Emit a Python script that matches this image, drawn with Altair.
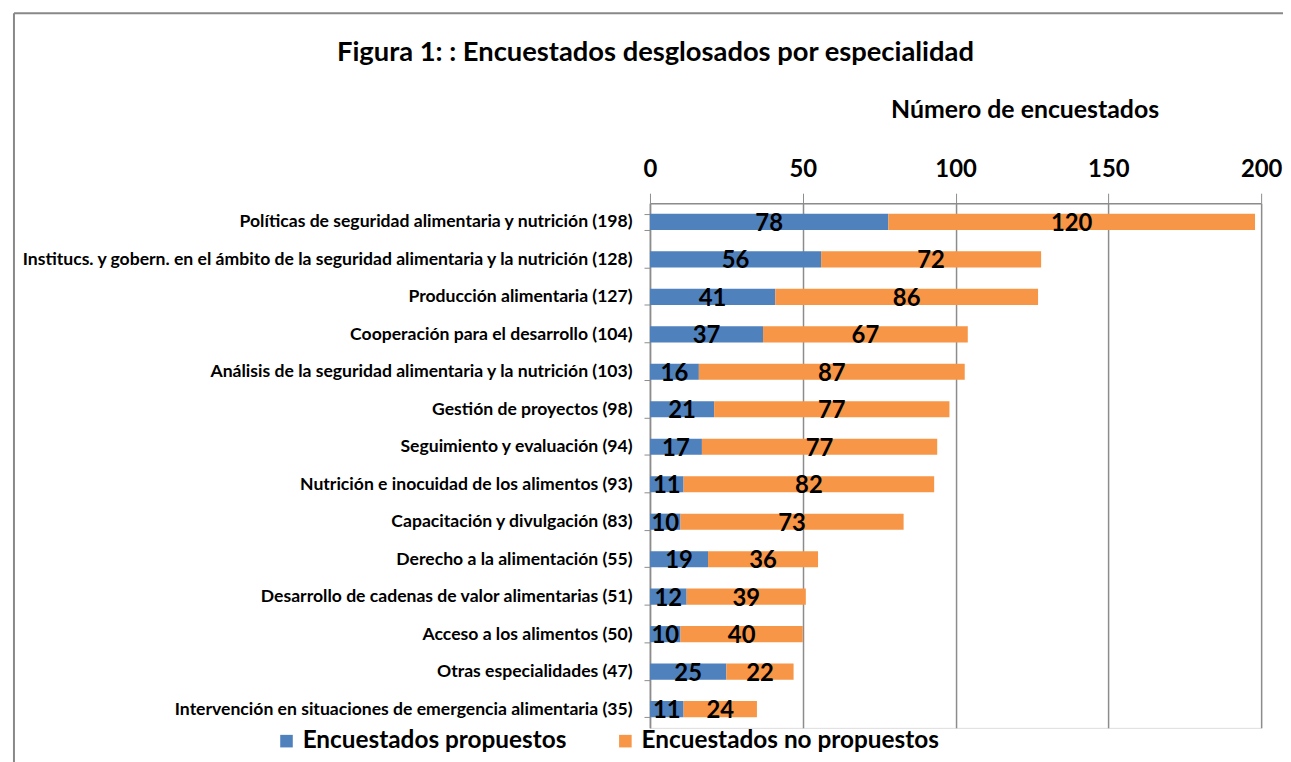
import altair as alt
import pandas as pd

categories = [
    "Políticas de seguridad alimentaria y nutrición (198)",
    "Institucs. y gobern. en el ámbito de la seguridad alimentaria y la nutrición (128)",
    "Producción alimentaria (127)",
    "Cooperación para el desarrollo (104)",
    "Análisis de la seguridad alimentaria y la nutrición (103)",
    "Gestión de proyectos (98)",
    "Seguimiento y evaluación (94)",
    "Nutrición e inocuidad de los alimentos (93)",
    "Capacitación y divulgación (83)",
    "Derecho a la alimentación (55)",
    "Desarrollo de cadenas de valor alimentarias (51)",
    "Acceso a los alimentos (50)",
    "Otras especialidades (47)",
    "Intervención en situaciones de emergencia alimentaria (35)",
]
propuestos = [78, 56, 41, 37, 16, 21, 17, 11, 10, 19, 12, 10, 25, 11]
no_propuestos = [120, 72, 86, 67, 87, 77, 77, 82, 73, 36, 39, 40, 22, 24]
series = ["Encuestados propuestos", "Encuestados no propuestos"]
colors = ["#4F81BD", "#F79646"]

rows = []
for c, a, b in zip(categories, propuestos, no_propuestos):
    rows.append({"cat": c, "serie": series[0], "value": a, "ord": 0})
    rows.append({"cat": c, "serie": series[1], "value": b, "ord": 1})
df = pd.DataFrame(rows)

FONT = "Lato"
W, H = 615, 528
GRID = "#8C8C8C"

base = alt.Chart(df).transform_stack(
    stack="value", as_=["x0", "x1"], groupby=["cat"], sort=[alt.SortField("ord")]
).transform_calculate(mid="(datum.x0 + datum.x1) / 2")

y_enc = alt.Y(
    "cat:N", sort=categories,
    scale=alt.Scale(paddingInner=0.57, paddingOuter=0.285),
    axis=alt.Axis(
        title=None, labelFont=FONT, labelFontWeight="bold", labelFontSize=17.7,
        labelColor="#000000", labelLimit=800, labelPadding=12,
        tickBand="extent", tickSize=6, tickColor=GRID, domainColor=GRID,
        domainWidth=1.5, grid=False,
    ),
)

bars = base.mark_bar().encode(
    y=y_enc,
    x=alt.X(
        "x0:Q", scale=alt.Scale(domain=[0, 200], nice=False),
        axis=alt.Axis(
            orient="top", values=[0, 50, 100, 150, 200], title="Número de encuestados",
            titleFont=FONT, titleFontSize=25, titleFontWeight="bold", titleColor="#000000",
            titleX=377, titleY=-94, titleAlign="center", titleBaseline="middle",
            labelFont=FONT, labelFontSize=24, labelFontWeight="bold", labelColor="#000000",
            labelPadding=12, tickSize=10, tickColor=GRID, domainColor=GRID, domainWidth=1.5,
            grid=True, gridColor=GRID, gridWidth=1.5, labelFlush=False,
        ),
    ),
    x2="x1:Q",
    color=alt.Color(
        "serie:N", scale=alt.Scale(domain=series, range=colors),
        legend=alt.Legend(
            title=None, orient="none", direction="horizontal", legendX=-378, legendY=529,
            symbolType="square", symbolSize=160, symbolStrokeWidth=0, symbolOpacity=1,
            labelFont=FONT, labelFontSize=24.5, labelFontWeight="bold", labelColor="#000000",
            columnPadding=46, labelOffset=4, labelLimit=500,
        ),
    ),
    order=alt.Order("ord:Q"),
)

labels = base.mark_text(
    font=FONT, fontSize=24, fontWeight="bold", color="#000000", baseline="middle", dy=2
).encode(
    y=alt.Y("cat:N", sort=categories),
    x=alt.X("mid:Q"),
    text=alt.Text("value:Q"),
)

frame_left = alt.Chart(pd.DataFrame({"k": [0]})).mark_rule(color="#888888", strokeWidth=2, clip=False).encode(
    x=alt.value(-640), y=alt.value(-191), y2=alt.value(580)
)
frame_top = alt.Chart(pd.DataFrame({"k": [0]})).mark_rule(color="#888888", strokeWidth=2, clip=False).encode(
    x=alt.value(-640), x2=alt.value(660), y=alt.value(-191)
)

chart = alt.layer(bars, labels, frame_left, frame_top).properties(
    width=W, height=H,
    title=alt.TitleParams(
        "Figura 1: : Encuestados desglosados por especialidad",
        font=FONT, fontSize=27.5, fontWeight="bold", color="#000000",
        anchor="middle", dx=-302, offset=0, dy=54,
    ),
    autosize=alt.AutoSizeParams(type="none"),
    padding={"left": 646, "top": 194, "right": 22, "bottom": 32},
).configure_view(stroke=None).configure(background="#FFFFFF")

chart.save("out.html", embed_options={"renderer": "svg", "actions": False})
